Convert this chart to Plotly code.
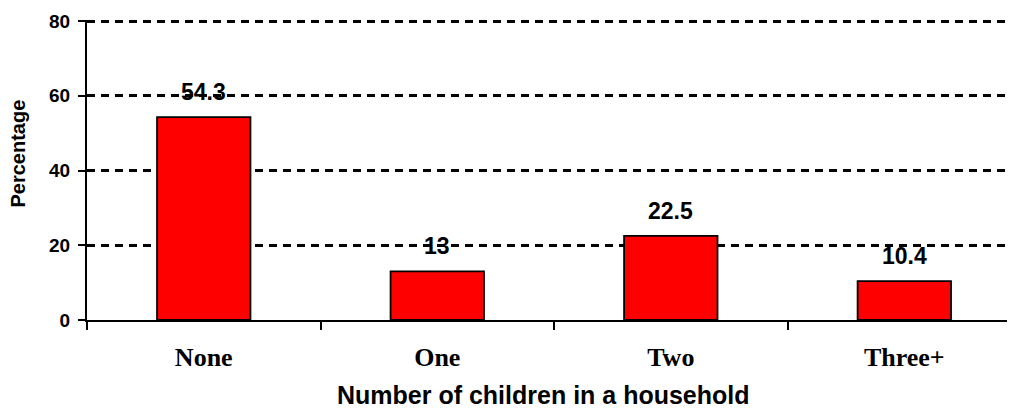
import plotly.graph_objects as go

categories = ["None", "One", "Two", "Three+"]
values = [54.3, 13, 22.5, 10.4]
labels = ["54.3", "13", "22.5", "10.4"]
y_ticks = [0, 20, 40, 60, 80]

SANS = "Liberation Sans, Arial"
SERIF = "Liberation Serif, Times New Roman"

fig = go.Figure()
fig.add_trace(go.Bar(
    x=categories, y=values,
    width=0.4,
    marker=dict(color="#ff0000", line=dict(color="black", width=1.8)),
    hoverinfo="skip",
))

for c, v, t in zip(categories, values, labels):
    fig.add_annotation(x=c, y=v, text=t, showarrow=False, yshift=25,
                       font=dict(family=SANS, size=23, color="black", weight="bold"))

# axis titles
fig.add_annotation(xref="paper", yref="paper", x=0.492, y=0, yanchor="middle",
                   yshift=-75, showarrow=False, text="Number of children in a household",
                   font=dict(family=SANS, size=25, color="black", weight="bold"))
fig.add_annotation(xref="paper", yref="paper", x=0, y=0.555, xanchor="center",
                   xshift=-69, showarrow=False, textangle=-90, text="Percentage",
                   font=dict(family=SANS, size=20, color="black", weight="bold"))

# page body adds an 8px margin, so the figure is sized/offset to compensate
fig.update_layout(
    width=1007, height=402,
    margin=dict(l=79, r=0, t=12, b=90),
    plot_bgcolor="white", paper_bgcolor="white",
    showlegend=False,
    xaxis=dict(
        type="category",
        range=[-0.5, 3.474],
        automargin=False,
        showline=True, linecolor="black", linewidth=2,
        ticks="outside", tickson="boundaries", ticklen=8, tickwidth=2, tickcolor="black",
        showgrid=False,
        ticklabelstandoff=13,
        tickfont=dict(family=SERIF, size=26, color="black", weight="bold"),
    ),
    yaxis=dict(
        range=[0, 80.3],
        automargin=False,
        tickvals=y_ticks,
        showline=True, linecolor="black", linewidth=2,
        ticks="outside", ticklen=7, tickwidth=2, tickcolor="black",
        showgrid=True, gridcolor="black", gridwidth=2.5, griddash="8px,6px",
        zeroline=False,
        ticklabelstandoff=4,
        tickfont=dict(family=SANS, size=19, color="black", weight="bold"),
    ),
)

fig.write_html("out.html")
